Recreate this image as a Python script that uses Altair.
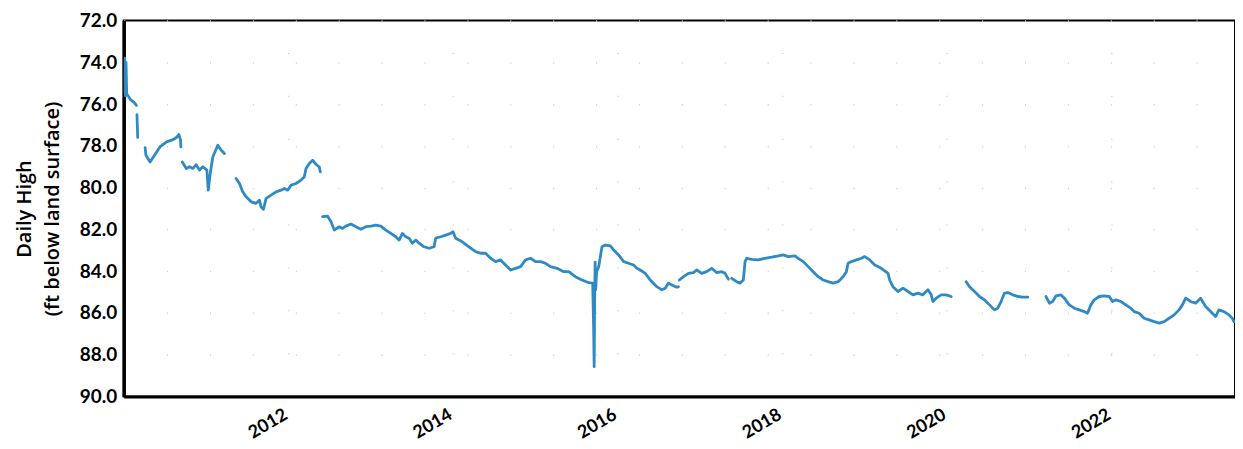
import altair as alt
import pandas as pd

# decimal years and depth (ft below land surface), one list pair per unbroken run
s1_x = [2010.006, 2010.012, 2010.021, 2010.028, 2010.036, 2010.052, 2010.085, 2010.121, 2010.154]
s1_y = [75.4, 73.8, 75.6, 74.0, 75.5, 75.6, 75.8, 75.9, 76.06]

s2_x = [2010.161, 2010.165, 2010.170]
s2_y = [76.5, 77.0, 77.6]

s3_x = [2010.26, 2010.27, 2010.32, 2010.36, 2010.40, 2010.44, 2010.52, 2010.60, 2010.64, 2010.67, 2010.69, 2010.695]
s3_y = [78.08, 78.45, 78.77, 78.53, 78.29, 78.05, 77.81, 77.70, 77.60, 77.46, 77.73, 78.05]

s4_x = [2010.711, 2010.760, 2010.800, 2010.840, 2010.881, 2010.921, 2010.961, 2011.010, 2011.027, 2011.051, 2011.082, 2011.143, 2011.184, 2011.224]
s4_y = [78.77, 79.08, 79.0, 79.08, 78.9, 79.16, 79.0, 79.16, 80.12, 79.32, 78.53, 77.97, 78.21, 78.37]

s5_x = [2011.366, 2011.406, 2011.446, 2011.487, 2011.548, 2011.608, 2011.648, 2011.669, 2011.697, 2011.730, 2011.790, 2011.851, 2011.912, 2011.952, 2011.992, 2012.033, 2012.093, 2012.154, 2012.194, 2012.215, 2012.255, 2012.295, 2012.336, 2012.376, 2012.388]
s5_y = [79.56, 79.80, 80.20, 80.44, 80.68, 80.75, 80.60, 80.92, 81.04, 80.51, 80.36, 80.20, 80.12, 80.04, 80.12, 79.88, 79.80, 79.64, 79.48, 79.08, 78.84, 78.69, 78.88, 79.01, 79.24]

s6_x = [2012.416, 2012.476, 2012.518, 2012.558, 2012.618, 2012.658, 2012.699, 2012.760, 2012.821, 2012.881, 2012.942, 2013.002, 2013.063, 2013.124, 2013.184, 2013.245, 2013.305, 2013.345, 2013.385, 2013.427, 2013.467, 2013.507, 2013.548, 2013.588, 2013.648, 2013.709, 2013.770, 2013.790, 2013.851, 2013.912, 2013.972, 2014.0, 2014.033, 2014.113, 2014.194, 2014.275, 2014.336, 2014.396, 2014.457, 2014.518, 2014.578, 2014.639, 2014.699, 2014.760, 2014.821, 2014.881, 2014.942, 2015.002, 2015.063, 2015.124, 2015.184, 2015.264, 2015.345, 2015.406, 2015.487, 2015.567, 2015.648, 2015.697,
        2015.709, 2015.715, 2015.721, 2015.727, 2015.733, 2015.745, 2015.770, 2015.810, 2015.851, 2015.912, 2015.952, 2016.012, 2016.073, 2016.133, 2016.194, 2016.234, 2016.275, 2016.336, 2016.396, 2016.476, 2016.537, 2016.578, 2016.618, 2016.658, 2016.719, 2016.739]
s6_y = [81.39, 81.36, 81.63, 82.03, 81.87, 81.95, 81.84, 81.74, 81.87, 81.99, 81.87, 81.84, 81.79, 81.84, 82.03, 82.19, 82.35, 82.51, 82.19, 82.35, 82.42, 82.66, 82.51, 82.66, 82.83, 82.90, 82.83, 82.42, 82.35, 82.27, 82.19, 82.11, 82.42, 82.59, 82.83, 83.06, 83.14, 83.14, 83.38, 83.54, 83.46, 83.70, 83.94, 83.86, 83.78, 83.46, 83.38, 83.54, 83.54, 83.62, 83.78, 83.86, 84.02, 84.02, 84.26, 84.42, 84.55, 84.57,
        86.80, 88.57, 85.37, 83.56, 84.89, 84.03, 83.78, 82.83, 82.75, 82.79, 82.98, 83.22, 83.54, 83.62, 83.70, 83.86, 83.94, 84.10, 84.42, 84.74, 84.89, 84.81, 84.57, 84.66, 84.77, 84.74]

s7_x = [2016.750, 2016.800, 2016.861, 2016.921, 2016.961, 2017.022, 2017.082, 2017.143, 2017.204, 2017.264, 2017.305, 2017.345]
s7_y = [84.42, 84.26, 84.10, 84.07, 83.94, 84.10, 84.02, 83.86, 84.07, 84.02, 84.10, 84.38]

s8_x = [2017.385, 2017.446, 2017.487, 2017.527, 2017.548, 2017.567, 2017.628, 2017.709, 2017.790, 2017.870, 2017.952, 2018.012, 2018.073, 2018.154, 2018.194, 2018.255, 2018.315, 2018.376, 2018.436, 2018.497, 2018.558, 2018.618, 2018.679, 2018.739, 2018.779, 2018.800, 2018.840, 2018.901, 2018.961, 2019.002, 2019.063, 2019.124, 2019.204, 2019.285, 2019.305, 2019.345, 2019.406, 2019.467, 2019.527, 2019.588, 2019.648, 2019.709, 2019.770, 2019.810, 2019.830, 2019.870, 2019.931, 2019.992, 2020.052]
s8_y = [84.34, 84.50, 84.57, 84.42, 83.54, 83.38, 83.43, 83.46, 83.38, 83.33, 83.27, 83.22, 83.30, 83.27, 83.38, 83.54, 83.78, 84.02, 84.26, 84.42, 84.50, 84.57, 84.50, 84.26, 84.02, 83.62, 83.54, 83.46, 83.38, 83.30, 83.46, 83.70, 83.86, 84.10, 84.42, 84.74, 84.97, 84.81, 84.97, 85.13, 85.05, 85.13, 84.89, 85.13, 85.45, 85.29, 85.13, 85.13, 85.21]

s9_x = [2020.234, 2020.275, 2020.336, 2020.396, 2020.457, 2020.518, 2020.578, 2020.618, 2020.658, 2020.699, 2020.739, 2020.800, 2020.861, 2020.921, 2020.982]
s9_y = [84.50, 84.74, 84.97, 85.21, 85.37, 85.61, 85.85, 85.77, 85.45, 85.05, 85.02, 85.13, 85.21, 85.24, 85.24]

s10_x = [2021.204, 2021.245, 2021.285, 2021.325, 2021.385, 2021.427, 2021.487, 2021.548, 2021.608, 2021.669, 2021.709, 2021.749, 2021.790, 2021.851, 2021.912, 2021.972, 2022.012, 2022.052, 2022.113, 2022.173, 2022.234, 2022.275, 2022.336, 2022.396, 2022.457, 2022.518, 2022.578, 2022.639, 2022.699, 2022.760, 2022.820, 2022.861, 2022.901, 2022.961, 2023.022, 2023.082, 2023.143, 2023.204, 2023.264, 2023.305, 2023.366, 2023.427, 2023.467, 2023.487]
s10_y = [85.21, 85.53, 85.45, 85.18, 85.13, 85.29, 85.61, 85.77, 85.85, 85.93, 86.01, 85.61, 85.37, 85.21, 85.18, 85.21, 85.45, 85.37, 85.45, 85.61, 85.77, 85.93, 86.01, 86.25, 86.33, 86.41, 86.48, 86.41, 86.25, 86.09, 85.85, 85.61, 85.29, 85.45, 85.53, 85.29, 85.69, 85.93, 86.17, 85.85, 85.93, 86.09, 86.25, 86.41]

x_ticks = [2012, 2014, 2016, 2018, 2020, 2022]
y_ticks = [72, 74, 76, 78, 80, 82, 84, 86, 88, 90]

segments = [(s1_x, s1_y), (s2_x, s2_y), (s3_x, s3_y), (s4_x, s4_y), (s5_x, s5_y),
            (s6_x, s6_y), (s7_x, s7_y), (s8_x, s8_y), (s9_x, s9_y), (s10_x, s10_y)]
rows = []
for i, (xs, ys) in enumerate(segments):
    for k, (a, b) in enumerate(zip(xs, ys)):
        rows.append({"year": a, "depth": b, "seg": i, "k": k})
df = pd.DataFrame(rows)

FONT = "Lato"

chart = alt.Chart(df).mark_line(
    color="#2f8ac4", strokeWidth=2.8, strokeJoin="round", strokeCap="round", clip=True
).encode(
    x=alt.X("year:Q",
            scale=alt.Scale(domain=[2010.0, 2023.5], nice=False, zero=False),
            axis=alt.Axis(values=x_ticks, format="d", title=None, labelAngle=330,
                          labelAlign="right", labelBaseline="top", labelPadding=9,
                          labelOffset=-7, ticks=False, labelFont=FONT, labelFontSize=18,
                          labelFontWeight="bold", labelColor="black",
                          domainColor="black", domainWidth=3,
                          grid=True, gridColor="#cfcfcf", gridDash=[1, 42], gridWidth=1.5)),
    y=alt.Y("depth:Q",
            scale=alt.Scale(domain=[72, 90], reverse=True, nice=False, zero=False),
            axis=alt.Axis(values=y_ticks, format=".1f",
                          title=["Daily High", "(ft below land surface)"],
                          titleFont="Open Sans", titleFontSize=20, titleFontWeight=600,
                          titleColor="black", titleLineHeight=28, titlePadding=17,
                          ticks=False, labelPadding=7, labelFont=FONT, labelFontSize=19,
                          labelFontWeight="bold", labelColor="black",
                          domainColor="black", domainWidth=3.5,
                          grid=True, gridColor="#cfcfcf", gridDash=[1, 42], gridWidth=1.5)),
    detail="seg:N",
    order="k:Q",
).properties(
    width=1114,
    height=377,
    autosize=alt.AutoSizeParams(type="none"),
    padding={"left": 116, "top": 12, "right": 0, "bottom": 50},
).configure_view(
    stroke="black", strokeWidth=2
)

chart.save("out.html", embed_options={"renderer": "svg", "actions": False})
